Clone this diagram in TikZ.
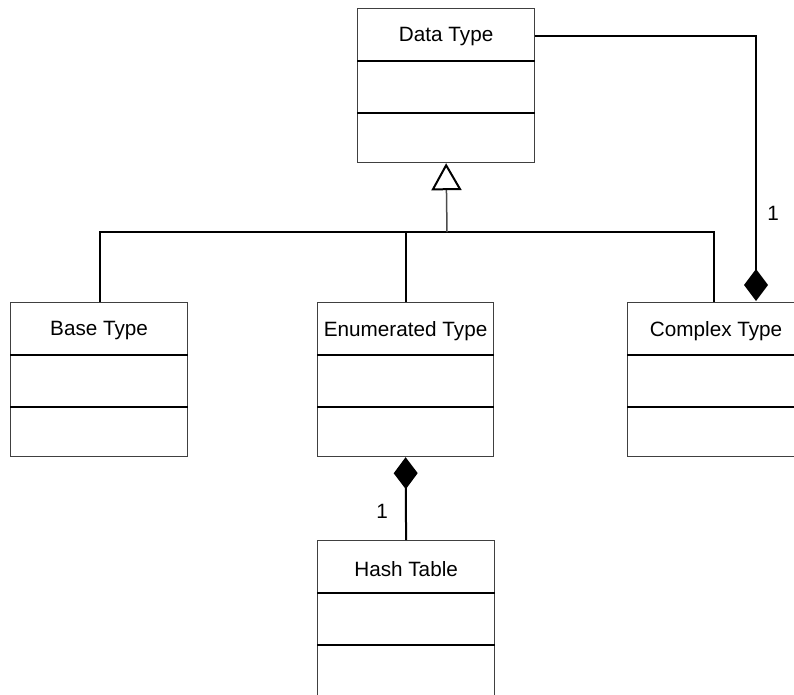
\documentclass[tikz,border=0pt]{standalone}
\usepackage{fontspec}
\setmainfont{Liberation Sans}
\usetikzlibrary{arrows.meta}
\newcommand{\umlclass}[6]{%
  \node[cls, minimum width=#4pt, minimum height=#6pt] (#1) at (#2,#3) {};
  \node[ttl] (#1-t) at ([yshift=-29pt]#1.north) {#5};
  \draw[divl] ([yshift=-53pt]#1.north west) -- ([yshift=-53pt]#1.north east);
  \draw[divl] ([yshift=-105pt]#1.north west) -- ([yshift=-105pt]#1.north east);
}
\begin{document}
\begin{tikzpicture}[x=1pt,y=-1pt,
  cls/.style={draw=black!75, line width=1.2pt, fill=white, inner sep=0pt, anchor=north west},
  ttl/.style={font=\fontsize{20.7}{24}\selectfont, inner sep=0pt},
  divl/.style={line width=2pt, black},
  conn/.style={line width=2pt, black},
  inh/.style={line width=1.5pt, black!70},
  mult/.style={font=\fontsize{20.7}{24}\selectfont, inner sep=0pt}]
\useasboundingbox (0,0) rectangle (794,694);
\umlclass{dt}{357}{8}{177}{Data Type}{154}
\umlclass{bt}{10}{302}{177}{Base Type}{154}
\umlclass{et}{317}{302}{176}{Enumerated Type}{154}
\umlclass{ct}{627}{302}{177}{Complex Type}{154}
\umlclass{ht}{317}{540}{177}{Hash Table}{170}
% inheritance
\coordinate (j) at (447,232);
\coordinate (bl) at (100,302);
\coordinate (cl) at (714,302);
\draw[conn] (bl) |- (j) -| (cl);
\draw[conn] (et.north) -- (et.north |- j);
\draw[inh, -{Triangle[open, length=27pt, width=30pt, line width=2pt, color=black]}] (j) -- (dt.south);
% composition Data Type -> Complex Type
\coordinate (cd) at (756,301);
\draw[conn, -{Diamond[length=32pt, width=24pt]}] (dt.east |- 0,36) -| (cd);
\node[mult] (m1) at (773,213) {1};
% composition Enumerated -> Hash Table
\draw[conn, {Diamond[length=32pt, width=24pt]}-] (et.south) -- (ht.north);
\node[mult] (m2) at (382,511) {1};
\end{tikzpicture}
\end{document}
